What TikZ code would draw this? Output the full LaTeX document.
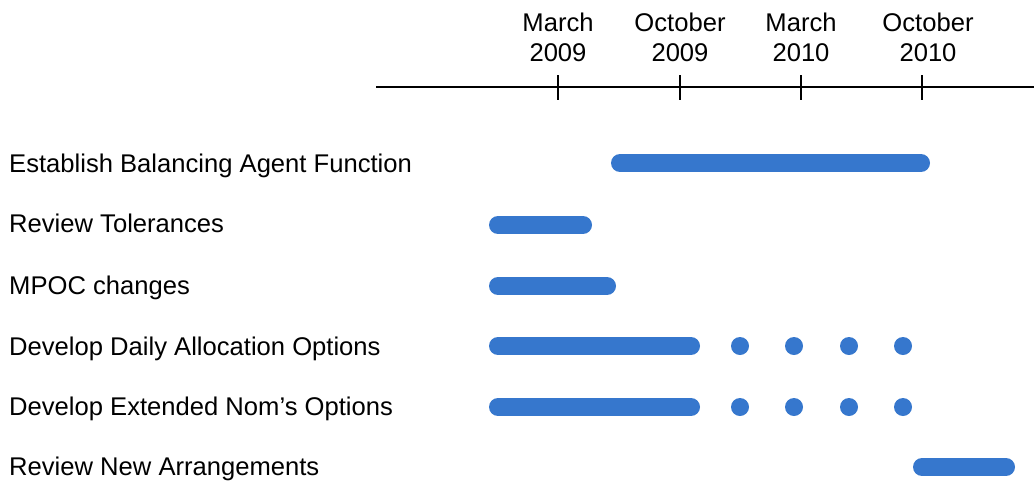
\documentclass[tikz,border=0pt]{standalone}
\usepackage{fontspec}
\setmainfont{Liberation Sans}
\definecolor{barblue}{RGB}{54,119,205}
\begin{document}
\begin{tikzpicture}[x=1pt,y=-1pt,
  lbl/.style={font=\fontsize{25.6}{30}\selectfont, inner sep=0pt, anchor=base},
  task/.style={font=\fontsize{25.6}{30}\selectfont, inner sep=0pt, anchor=base west},
  bar/.style={line width=18pt, line cap=round, draw=barblue},
  dot/.style={circle, fill=barblue, inner sep=0pt, minimum size=18pt},
  axis/.style={line width=2pt, black},
  tick/.style={line width=1.4pt, black}]
\useasboundingbox (0,0) rectangle (1034,480);
% axis
\coordinate (axL) at (376,87);
\coordinate (axR) at (1034,87);
\draw[axis] (axL) -- (axR);
\foreach \x/\n in {558/t1,680/t2,801/t3,922/t4}{
  \coordinate (\n top) at (\x,75);
  \coordinate (\n bot) at (\x,100);
  \draw[tick] (\n top) -- (\n bot);
}
% tick labels
\node[lbl] (l1a) at (558,31) {March};
\node[lbl] (l1b) at (558,61) {2009};
\node[lbl] (l2a) at (680,31) {October};
\node[lbl] (l2b) at (680,61) {2009};
\node[lbl] (l3a) at (801,31) {March};
\node[lbl] (l3b) at (801,61) {2010};
\node[lbl] (l4a) at (928,31) {October};
\node[lbl] (l4b) at (928,61) {2010};
% task labels
\node[task] (r1) at (9,172) {Establish Balancing Agent Function};
\node[task] (r2) at (9,232) {Review Tolerances};
\node[task] (r3) at (9,294) {MPOC changes};
\node[task] (r4) at (9,355) {Develop Daily Allocation Options};
\node[task] (r5) at (9,415) {Develop Extended Nom’s Options};
\node[task] (r6) at (9,475) {Review New Arrangements};
% bars
\draw[bar] (620,163) -- (921,163);
\draw[bar] (498,225) -- (583,225);
\draw[bar] (498,286) -- (607,286);
\draw[bar] (498,346) -- (691,346);
\draw[bar] (498,407) -- (691,407);
\draw[bar] (922,467) -- (1006,467);
% dots
\foreach \x [count=\i] in {740,794,849,903}{
  \node[dot] (da\i) at (\x,346) {};
  \node[dot] (db\i) at (\x,407) {};
}
\end{tikzpicture}
\end{document}
